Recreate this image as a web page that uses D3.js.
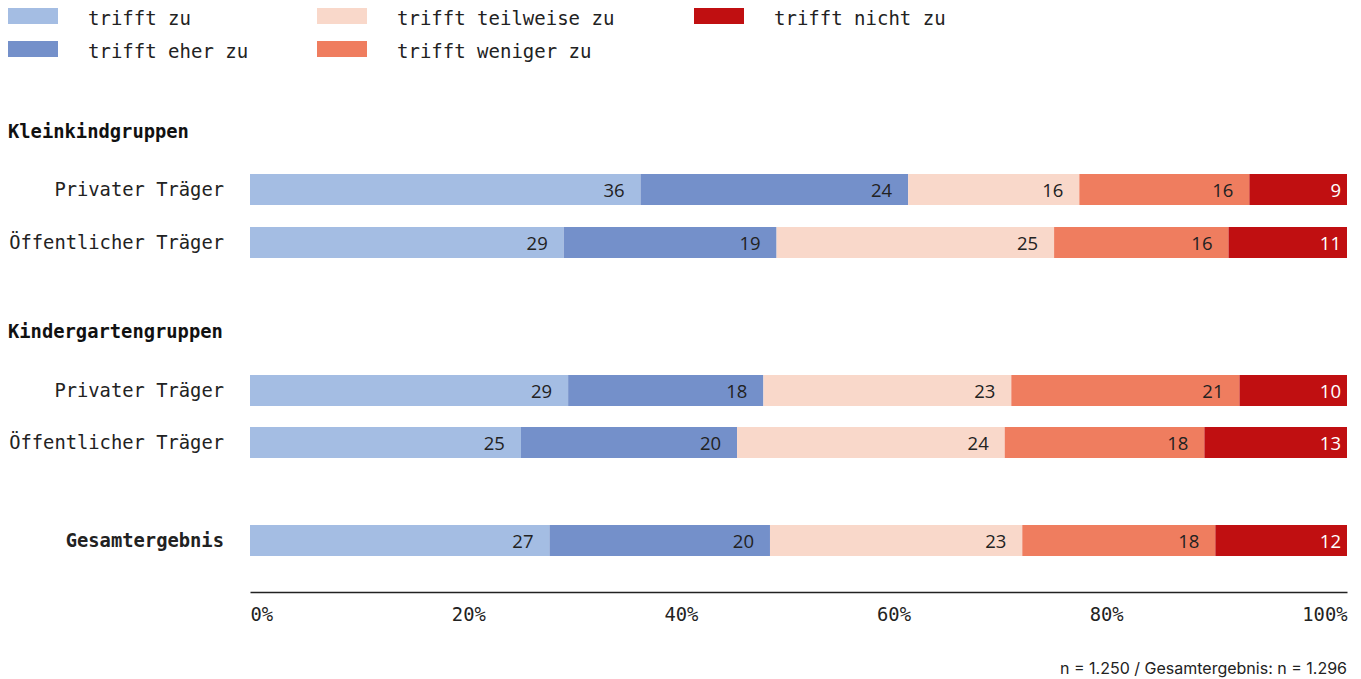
<!DOCTYPE html>
<html>
<head>
<meta charset="utf-8">
<script src="https://cdn.jsdelivr.net/npm/d3@7"></script>
<style>
  body { margin: 0; background: #fff; }
  .mono { font-family: "DejaVu Sans Mono", "Liberation Mono", monospace; }
</style>
</head>
<body>
<script>
width = 1361;
height = 679;

// categories / answer options
const answers = ["trifft zu", "trifft eher zu", "trifft teilweise zu", "trifft weniger zu", "trifft nicht zu"];
const colors = ["#a4bde3", "#7490ca", "#f9d8ca", "#ef7d5f", "#c00f11"];

const rowLabels = ["Privater Träger", "Öffentlicher Träger", "Privater Träger", "Öffentlicher Träger", "Gesamtergebnis"];
const groupLabels = ["Kleinkindgruppen", "Kindergartengruppen"];

// shares per row in percent
const trifftZu       = [35.6, 28.6, 29.0, 24.7, 27.3];
const trifftEherZu   = [24.4, 19.4, 17.8, 19.7, 20.1];
const trifftTeilweise= [15.6, 25.3, 22.6, 24.4, 23.0];
const trifftWeniger  = [15.5, 15.9, 20.8, 18.2, 17.6];
const trifftNicht    = [ 8.9, 10.8,  9.8, 13.0, 12.0];

const tickValues = [0, 20, 40, 60, 80, 100];
const footnote = "n = 1.250 / Gesamtergebnis: n = 1.296";

const series = [trifftZu, trifftEherZu, trifftTeilweise, trifftWeniger, trifftNicht];
const rows = rowLabels.map((label, i) => {
  const r = { label };
  answers.forEach((a, j) => r[a] = series[j][i]);
  return r;
});

const svg = d3.select("body").append("svg")
  .attr("width", width)
  .attr("height", height);

const x = d3.scaleLinear().domain([0, 100]).range([250, 1347]);
// row centre positions
const rowY = [189.5, 242.5, 390.5, 442.5, 540.5];
const barH = 31;

// Legend
const legendCols = [8, 317, 694];
const legend = svg.append("g");
answers.forEach((a, i) => {
  const col = i < 2 ? 0 : (i < 4 ? 1 : 2);
  const row = (i === 1 || i === 3) ? 1 : 0;
  const lx = legendCols[col], ly = 8 + row * 33;
  legend.append("rect").attr("x", lx).attr("y", ly).attr("width", 50).attr("height", 16).attr("fill", colors[i]);
  legend.append("text").attr("class", "mono")
    .attr("x", lx + 80).attr("y", ly + 10).attr("dy", "0.35em")
    .style("font-size", "19px").attr("fill", "#222").text(a);
});

// group headers
[131, 331].forEach((y, i) => {
  svg.append("text").attr("class", "mono")
    .attr("x", 8).attr("y", y).attr("dy", "0.35em")
    .style("font-size", "18.8px").style("font-weight", "bold").attr("fill", "#111")
    .text(groupLabels[i]);
});

// stacked bars
const stack = d3.stack().keys(answers)(rows);
const layers = svg.selectAll(".layer").data(stack).enter().append("g")
  .attr("fill", (d, i) => colors[i]);

layers.selectAll("rect").data(d => d).enter().append("rect")
  .attr("x", d => x(d[0]))
  .attr("y", (d, i) => rowY[i] - barH / 2)
  .attr("width", d => x(d[1]) - x(d[0]))
  .attr("height", barH);

layers.selectAll("text").data((d, k) => d.map(v => ({ v, k }))).enter().append("text")
  .attr("x", d => x(d.v[1]) - (d.k === 4 ? 6 : 16))
  .attr("y", (d, i) => rowY[i] + 1)
  .attr("dy", "0.35em")
  .attr("text-anchor", "end")
  .style("font-family", "'Open Sans', sans-serif")
  .style("font-size", "18.5px")
  .attr("fill", d => d.k === 4 ? "#fff" : "#222")
  .text(d => Math.round(d.v[1] - d.v[0]));

// row labels
svg.selectAll(".rowlabel").data(rowLabels).enter().append("text")
  .attr("class", "mono")
  .attr("x", 224)
  .attr("y", (d, i) => rowY[i])
  .attr("dy", "0.35em")
  .attr("text-anchor", "end")
  .style("font-size", "18.8px")
  .style("font-weight", (d, i) => i === 4 ? "bold" : "normal")
  .attr("fill", "#222")
  .text(d => d);

// x axis
const axis = svg.append("g").attr("transform", "translate(0,592)")
  .call(d3.axisBottom(x).tickValues(tickValues).tickSize(0).tickPadding(16).tickFormat(d => d + "%"));
axis.select(".domain").attr("stroke", "#222").attr("stroke-width", 1.3);
const tickTexts = axis.selectAll("text")
  .attr("class", "mono")
  .style("font-size", "18.8px")
  .attr("fill", "#222")
  .attr("text-anchor", "start");

// labels are spread out with equal gaps between them (space-between)
const widths = tickTexts.nodes().map(n => n.getComputedTextLength());
const gap = (x.range()[1] - x.range()[0] - d3.sum(widths)) / (widths.length - 1);
let cursor = x.range()[0];
axis.selectAll(".tick").each(function (d, i) {
  const tx = x(d);
  d3.select(this).select("text").attr("x", cursor - tx);
  cursor += widths[i] + gap;
});

// footnote
svg.append("text")
  .attr("x", 1347).attr("y", 668).attr("dy", "0.35em")
  .attr("text-anchor", "end")
  .style("font-family", "Inter, sans-serif")
  .style("font-size", "16px")
  .attr("fill", "#222")
  .text(footnote);
</script>
</body>
</html>
